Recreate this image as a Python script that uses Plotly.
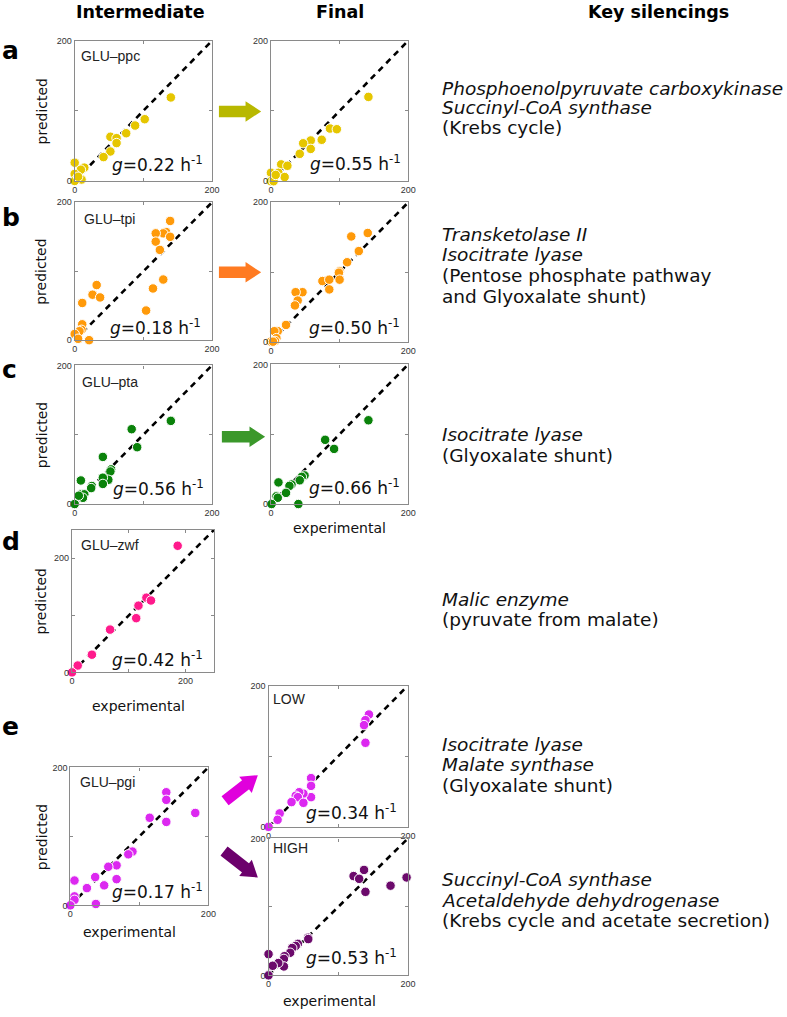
import plotly.graph_objects as go
import math

W, H = 787, 1017

# ---------------- data (experimental, predicted) ----------------
a_int_x = [140, 102, 88, 75, 52, 61, 61, 52, 42, 0, 14, 9, 0, 10, 0, 5]
a_int_y = [119, 88, 79, 68, 63, 61, 54, 42, 34, 26, 19, 16, 10, 2, 0, 6]
a_fin_x = [142, 86, 96, 74, 58, 47, 58, 42, 15, 24, 11, 0, 20, 0, 4, 7]
a_fin_y = [120, 75, 74, 59, 58, 54, 46, 39, 24, 22, 12, 12, 6, 0, 0, 9]

b_int_x = [139, 133, 129, 139, 118, 118, 124, 129, 114, 104, 32, 26, 37, 11, 11, 10, 7, 0, 21, 5]
b_int_y = [173, 157, 155, 150, 155, 143, 131, 88, 75, 43, 80, 66, 62, 54, 23, 15, 13, 9, 0, 2]
b_fin_x = [141, 117, 128, 111, 100, 99, 100, 75, 85, 85, 46, 36, 39, 35, 22, 10, 5, 8, 6, 0, 3]
b_fin_y = [156, 151, 130, 114, 101, 99, 89, 87, 89, 75, 71, 71, 59, 52, 24, 15, 15, 5, 1, 0, 0]

c_int_x = [140, 83, 91, 41, 53, 52, 49, 41, 41, 25, 24, 9, 9, 14, 12, 0, 6]
c_int_y = [120, 108, 82, 68, 50, 47, 35, 38, 29, 26, 23, 34, 14, 14, 9, 0, 12]
c_fin_x = [142, 79, 92, 49, 45, 42, 30, 27, 22, 11, 8, 10, 1, 40]
c_fin_y = [120, 92, 79, 41, 39, 34, 28, 26, 16, 31, 11, 9, 0, 0]

d_int_x = [186, 131, 139, 117, 113, 67, 35, 10, 0]
d_int_y = [222, 131, 126, 117, 95, 75, 31, 12, 0]

e_int_x = [139, 139, 181, 115, 139, 90, 84, 67, 55, 67, 49, 36, 24, 6, 6, 6, 37, 0]
e_int_y = [164, 153, 134, 127, 121, 78, 74, 58, 56, 38, 29, 41, 25, 36, 13, 8, 2, 0]
e_low_x = [144, 139, 137, 139, 61, 61, 61, 50, 44, 39, 42, 50, 33, 16, 13, 0]
e_low_y = [159, 151, 144, 119, 69, 58, 42, 47, 49, 44, 42, 34, 35, 19, 10, 0]
e_high_x = [198, 175, 137, 122, 130, 139, 57, 57, 42, 39, 34, 31, 23, 22, 22, 14, 6, 0, 0]
e_high_y = [143, 131, 154, 145, 141, 122, 55, 53, 46, 43, 40, 33, 28, 24, 13, 18, 14, 31, 0]

panel_labels = ["GLU–ppc", "", "GLU–tpi", "", "GLU–pta", "", "GLU–zwf", "GLU–pgi", "LOW", "HIGH"]
growth_rates = ["0.22", "0.55", "0.18", "0.50", "0.56", "0.66", "0.42", "0.17", "0.34", "0.53"]
axis_max = [200, 200, 200, 200, 200, 200, 250, 200, 200, 200]
tick_vals = [0, 100, 200]
tick_text = ["0", "", "200"]

headers = ["Intermediate", "Final", "Key silencings"]
letters = ["a", "b", "c", "d", "e"]
silencings = [
    [("Phosphoenolpyruvate carboxykinase", True), ("Succinyl-CoA synthase", True), ("(Krebs cycle)", False)],
    [("Transketolase II", True), ("Isocitrate lyase", True), ("(Pentose phosphate pathway", False),
     ("and Glyoxalate shunt)", False)],
    [("Isocitrate lyase", True), ("(Glyoxalate shunt)", False)],
    [("Malic enzyme", True), ("(pyruvate from malate)", False)],
    [("Isocitrate lyase", True), ("Malate synthase", True), ("(Glyoxalate shunt)", False)],
    [("Succinyl-CoA synthase", True), ("Acetaldehyde dehydrogenase", True),
     ("(Krebs cycle and acetate secretion)", False)],
]

# ---------------- layout geometry (pixels) ----------------
series = [(a_int_x, a_int_y), (a_fin_x, a_fin_y), (b_int_x, b_int_y), (b_fin_x, b_fin_y),
          (c_int_x, c_int_y), (c_fin_x, c_fin_y), (d_int_x, d_int_y), (e_int_x, e_int_y),
          (e_low_x, e_low_y), (e_high_x, e_high_y)]
colors = ["#e6c600", "#e6c600", "#ff9a0a", "#ff9a0a", "#0a820a", "#0a820a",
          "#ff1a8c", "#dc28f0", "#dc28f0", "#6c0a6c"]
boxes = [  # left, right, top, bottom
    (72.7, 212, 36, 177.7), (271.7, 411, 36, 178),
    (72.7, 212, 199.3, 338.5), (271.7, 411, 199.3, 340),
    (72.7, 212, 364, 504), (271.7, 411, 363, 504),
    (70, 214, 530, 674),
    (68.3, 208.3, 770, 909.3), (269.3, 410.7, 687.3, 830), (269.3, 410.7, 841.7, 980),
]
g_pos = [(205, 161), (406, 160), (203, 325), (405, 325), (205.5, 488), (405, 487),
         (205, 660), (205, 895), (402, 815), (402, 961)]
name_pos = [(77, 52), None, (80, 216), None, (78.5, 381), None, (77, 545), (76.5, 785),
            (272, 701), (272, 851)]


def px(x):
    return x / W


def py(y):
    return 1 - y / H


fig = go.Figure()
annotations = []
shapes = []

for i, ((xs, ys), col, box, m) in enumerate(zip(series, colors, boxes, axis_max)):
    k = i + 1
    xa = "x" if k == 1 else f"x{k}"
    ya = "y" if k == 1 else f"y{k}"
    # identity line
    fig.add_trace(go.Scatter(x=[0, m], y=[0, m], mode="lines", xaxis=xa, yaxis=ya,
                             line=dict(color="black", width=2.6, dash="6px,5px"),
                             hoverinfo="skip", showlegend=False, cliponaxis=False))
    fig.add_trace(go.Scatter(x=xs, y=ys, mode="markers", xaxis=xa, yaxis=ya,
                             marker=dict(size=9.5, color=col, line=dict(color="white", width=1)),
                             showlegend=False, cliponaxis=False))
    l, r, t, b = box
    common = dict(range=[0, m], tickvals=tick_vals, ticktext=tick_text, ticks="inside", ticklen=3,
                  tickcolor="#8a8a8a", showline=True, linecolor="#8a8a8a", linewidth=1.2,
                  mirror="ticks", showgrid=False, zeroline=False,
                  tickfont=dict(size=9, family="Liberation Sans", color="#333"))
    fig.layout[("xaxis" if k == 1 else f"xaxis{k}")] = dict(domain=[px(l), px(r)], anchor=ya, **common)
    fig.layout[("yaxis" if k == 1 else f"yaxis{k}")] = dict(domain=[py(b), py(t)], anchor=xa, **common)
    gx, gy = g_pos[i]
    annotations.append(dict(x=px(gx), y=py(gy), xref="paper", yref="paper", xanchor="right",
                            yanchor="middle", showarrow=False,
                            text=f"<i>g</i>={growth_rates[i]} h<sup>-1</sup>",
                            font=dict(size=17, family="DejaVu Sans", color="#111")))
    if panel_labels[i]:
        nx, ny = name_pos[i]
        annotations.append(dict(x=px(nx), y=py(ny), xref="paper", yref="paper", xanchor="left",
                                yanchor="middle", showarrow=False, text=panel_labels[i],
                                font=dict(size=14, family="Liberation Sans", color="#222")))

# headers
for txt, hx in zip(headers, [139, 342, 665]):
    annotations.append(dict(x=px(hx), y=py(7), xref="paper", yref="paper", xanchor="center",
                            yanchor="middle", showarrow=False, text=f"<b>{txt}</b>",
                            font=dict(size=17.5, family="DejaVu Sans", color="black")))

# panel letters
for txt, ly in zip(letters, [46, 215, 368, 542, 729]):
    annotations.append(dict(x=px(-3), y=py(ly), xref="paper", yref="paper", xanchor="left",
                            yanchor="middle", showarrow=False, text=f"<b>{txt}</b>",
                            font=dict(size=25, family="DejaVu Sans", color="black")))

# axis titles
for ycen in [107, 269, 434, 602, 840]:
    annotations.append(dict(x=px(39), y=py(ycen), xref="paper", yref="paper", xanchor="center",
                            yanchor="middle", showarrow=False, text="predicted", textangle=-90,
                            font=dict(size=14, family="DejaVu Sans", color="#111")))
for ex, ey in [(341, 528), (137, 708), (128, 936), (331, 1006)]:
    annotations.append(dict(x=px(ex), y=py(ey), xref="paper", yref="paper", xanchor="center",
                            yanchor="middle", showarrow=False, text="experimental",
                            font=dict(size=14, family="DejaVu Sans", color="#111")))

# key silencing texts
line_y = [[84, 104, 124], [232, 252, 273, 294], [434, 455], [600, 621], [747, 767, 788],
          [883, 904, 925]]
for block, ys in zip(silencings, line_y):
    for (txt, ital), yy in zip(block, ys):
        annotations.append(dict(x=px(443), y=py(yy), xref="paper", yref="paper", xanchor="left",
                                yanchor="middle", showarrow=False,
                                text=(f"<i>{txt}</i>" if ital else txt),
                                font=dict(size=18.5, family="DejaVu Sans", color="#111")))


# block arrows
def arrow(x0, y0, x1, y1, color, bw=4.8, hw=8.5, hl=13):
    L = math.hypot(x1 - x0, y1 - y0)
    ux, uy = (x1 - x0) / L, (y1 - y0) / L
    nx, ny = -uy, ux
    nxk, nyk = x1 - ux * hl, y1 - uy * hl
    pts = [(x0 + nx * bw, y0 + ny * bw), (nxk + nx * bw, nyk + ny * bw), (nxk + nx * hw, nyk + ny * hw),
           (x1, y1), (nxk - nx * hw, nyk - ny * hw), (nxk - nx * bw, nyk - ny * bw),
           (x0 - nx * bw, y0 - ny * bw)]
    path = "M " + " L ".join(f"{px(a):.5f},{py(b):.5f}" for a, b in pts) + " Z"
    shapes.append(dict(type="path", path=path, xref="paper", yref="paper", fillcolor=color,
                       line=dict(color=color, width=2)))


arrow(220, 107.5, 260, 107.5, "#b8b800")
arrow(220, 270, 260, 270, "#ff7b22")
arrow(223, 436, 264, 436, "#3b982b")
arrow(226, 803, 257, 779, "#e000dc")
arrow(225, 855, 257, 880, "#6c006c")

fig.update_layout(width=W, height=H, margin=dict(l=0, r=0, t=0, b=0), paper_bgcolor="white",
                  plot_bgcolor="white", annotations=annotations, shapes=shapes, showlegend=False)

# remove the browser's default 8px page margin so the figure sits at the window origin
fig.write_html("out.html", config={"displayModeBar": False},
               post_script="document.body.style.margin='0';")
